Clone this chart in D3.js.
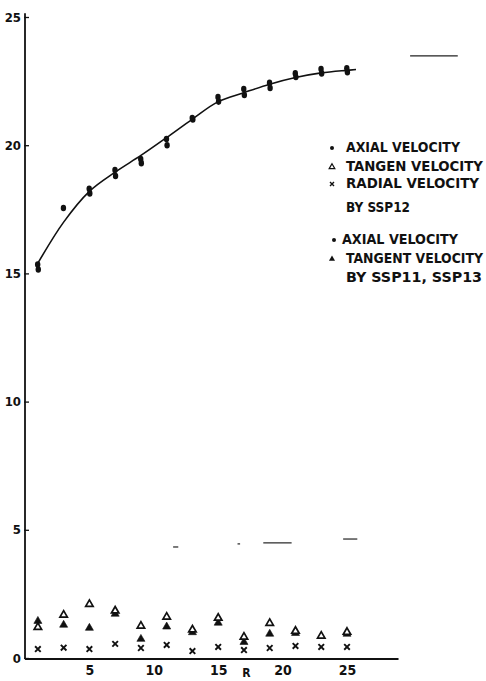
<!DOCTYPE html>
<html>
<head>
<meta charset="utf-8">
<script src="https://cdn.jsdelivr.net/npm/d3@7"></script>
<style>
  body { margin: 0; background: #fff; }
  svg { display: block; }
  .lbl { font-family: "DejaVu Sans Condensed", "Liberation Sans Narrow", sans-serif; font-stretch: condensed; font-weight: bold; fill: #111; }
</style>
</head>
<body>
<div id="chart"></div>
<script>
// radius positions (R)
const radius = [1, 3, 5, 7, 9, 11, 13, 15, 17, 19, 21, 23, 25];

// axial velocity, two measurement sets
const axialSSP12 = [15.35, 17.55, 18.3, 19.03, 19.46, 20.24, 21.06, 21.88, 22.19, 22.43, 22.8, 22.97, 23.0];
const axialSSP1113 = [15.15, null, 18.12, 18.8, 19.3, 20.0, 21.0, 21.7, 21.96, 22.23, 22.66, 22.8, 22.85];

// tangential velocity
const tangenSSP12 = [1.2, 1.68, 2.1, 1.84, 1.25, 1.6, 1.1, 1.56, 0.82, 1.36, 1.05, 0.86, 1.01];
const tangenSSP1113 = [1.44, 1.29, 1.17, 1.72, 0.74, 1.22, 1.0, 1.37, 0.62, 0.94, 0.97, null, 0.94];

// radial velocity
const radialSSP12 = [0.35, 0.4, 0.35, 0.55, 0.39, 0.51, 0.27, 0.43, 0.31, 0.39, 0.47, 0.43, 0.43];

// hand drawn fit through axial points
const fitR = [1, 3, 5, 7, 9, 11, 13, 15, 17, 19, 21, 23, 25, 25.7];
const fitV = [15.4, 17.0, 18.2, 18.95, 19.6, 20.3, 21.02, 21.7, 22.05, 22.38, 22.64, 22.82, 22.92, 22.95];

// stray pen marks on the scan (R from, R to, value)
const strayMarks = [
    [29.9, 33.6, 23.48],
    [11.5, 11.9, 4.33],
    [16.5, 16.7, 4.45],
    [18.5, 20.7, 4.49],
    [24.7, 25.8, 4.64]
];

const yTicks = [0, 5, 10, 15, 20, 25];
const xTicks = [5, 10, 15, 20, 25];

const legendLines = [
    { mark: "dot", text: "AXIAL VELOCITY", w: 114 },
    { mark: "tri-open", text: "TANGEN VELOCITY", w: 137 },
    { mark: "cross", text: "RADIAL VELOCITY", w: 133 },
    { mark: null, text: "BY SSP12", w: 64 },
    { mark: "dot", text: "AXIAL VELOCITY", w: 116 },
    { mark: "tri", text: "TANGENT VELOCITY", w: 137 },
    { mark: null, text: "BY SSP11, SSP13", w: 136 }
];

const width = 486, height = 681;

const svg = d3.select("#chart").append("svg")
    .attr("width", width)
    .attr("height", height);

const x = d3.scaleLinear().domain([0, 25]).range([25, 347]);
const y = d3.scaleLinear().domain([0, 25]).range([658, 17]);

// axes lines
svg.append("line")
    .attr("x1", x(0)).attr("x2", x(0))
    .attr("y1", y(0) + 1).attr("y2", y(25.15))
    .attr("stroke", "#111").attr("stroke-width", 1.8);

svg.append("line")
    .attr("x1", x(0)).attr("x2", x(29))
    .attr("y1", y(0) + 1).attr("y2", y(0) + 1)
    .attr("stroke", "#111").attr("stroke-width", 2);

// y axis ticks + labels
const yAxis = svg.append("g")
    .attr("transform", `translate(${x(0)},0)`)
    .call(d3.axisLeft(y).tickValues(yTicks).tickSizeInner(-4).tickSizeOuter(0).tickPadding(4));
yAxis.select(".domain").remove();
yAxis.selectAll(".tick line").attr("stroke", "#111").attr("stroke-width", 1.3).attr("x1", -1);
yAxis.selectAll(".tick text").attr("class", "lbl").style("font-size", "13px");

// x axis labels
const xAxis = svg.append("g")
    .attr("transform", `translate(0,${y(0) + 3})`)
    .call(d3.axisBottom(x).tickValues(xTicks).tickSize(0).tickPadding(4));
xAxis.select(".domain").remove();
xAxis.selectAll(".tick text").attr("class", "lbl").style("font-size", "14px");

svg.append("text")
    .attr("class", "lbl")
    .attr("x", x(17.2)).attr("y", 677)
    .attr("text-anchor", "middle")
    .style("font-size", "12px")
    .text("R");

// fitted curve
const fitData = fitR.map((r, i) => [r, fitV[i]]);
svg.append("path")
    .datum(fitData)
    .attr("fill", "none")
    .attr("stroke", "#111")
    .attr("stroke-width", 1.6)
    .attr("d", d3.line().x(d => x(d[0])).y(d => y(d[1])).curve(d3.curveCatmullRom));

// stray marks
svg.append("g").selectAll("line")
    .data(strayMarks)
    .enter().append("line")
    .attr("x1", d => x(d[0])).attr("x2", d => x(d[1]))
    .attr("y1", d => y(d[2])).attr("y2", d => y(d[2]))
    .attr("stroke", "#222").attr("stroke-width", 1.2);

// marker helpers
const triPath = d3.symbol().type(d3.symbolTriangle).size(28);
const triOpenPath = d3.symbol().type(d3.symbolTriangle).size(24);

function drawDots(values, dx) {
    svg.append("g").selectAll("ellipse")
        .data(radius.map((r, i) => [r, values[i]]).filter(d => d[1] != null))
        .enter().append("ellipse")
        .attr("cx", d => x(d[0]) + dx)
        .attr("cy", d => y(d[1]))
        .attr("rx", 2.7).attr("ry", 3.3)
        .attr("fill", "#111");
}

function drawTris(values, open) {
    svg.append("g").selectAll("path")
        .data(radius.map((r, i) => [r, values[i]]).filter(d => d[1] != null))
        .enter().append("path")
        .attr("transform", d => `translate(${x(d[0])},${y(d[1])})`)
        .attr("d", open ? triOpenPath : triPath)
        .attr("fill", open ? "#fff" : "#111")
        .attr("stroke", "#111")
        .attr("stroke-width", open ? 1.7 : 0.6);
}

function crossPath(cx, cy, s) {
    return `M${cx - s},${cy - s}L${cx + s},${cy + s}M${cx + s},${cy - s}L${cx - s},${cy + s}`;
}

function drawCrosses(values) {
    svg.append("g").selectAll("path")
        .data(radius.map((r, i) => [r, values[i]]))
        .enter().append("path")
        .attr("d", d => crossPath(x(d[0]), y(d[1]), 2.8))
        .attr("stroke", "#111")
        .attr("stroke-width", 1.9)
        .attr("fill", "none");
}

drawDots(axialSSP1113, 0.4);
drawDots(axialSSP12, -0.2);
drawTris(tangenSSP1113, false);
drawTris(tangenSSP12, true);
drawCrosses(radialSSP12);

// legend
const legendY = [152, 171, 188, 212, 244, 263, 282];
const legend = svg.append("g");
legendLines.forEach((l, i) => {
    const ly = legendY[i];
    legend.append("text")
        .attr("class", "lbl")
        .attr("x", i === 4 ? 342 : 346)
        .attr("y", ly)
        .attr("textLength", l.w)
        .attr("lengthAdjust", "spacingAndGlyphs")
        .style("font-size", "14px")
        .text(l.text);
    const my = ly - 4;
    if (l.mark === "dot") {
        legend.append("circle").attr("cx", i === 4 ? 334 : 332).attr("cy", my).attr("r", 2).attr("fill", "#111");
    } else if (l.mark === "tri") {
        legend.append("path").attr("transform", `translate(332,${my})`)
            .attr("d", d3.symbol().type(d3.symbolTriangle).size(16)).attr("fill", "#111");
    } else if (l.mark === "tri-open") {
        legend.append("path").attr("transform", `translate(332,${my})`)
            .attr("d", d3.symbol().type(d3.symbolTriangle).size(14))
            .attr("fill", "#fff").attr("stroke", "#111").attr("stroke-width", 1.2);
    } else if (l.mark === "cross") {
        legend.append("path").attr("d", crossPath(332, my, 2))
            .attr("stroke", "#111").attr("stroke-width", 1.4);
    }
});
</script>
</body>
</html>
